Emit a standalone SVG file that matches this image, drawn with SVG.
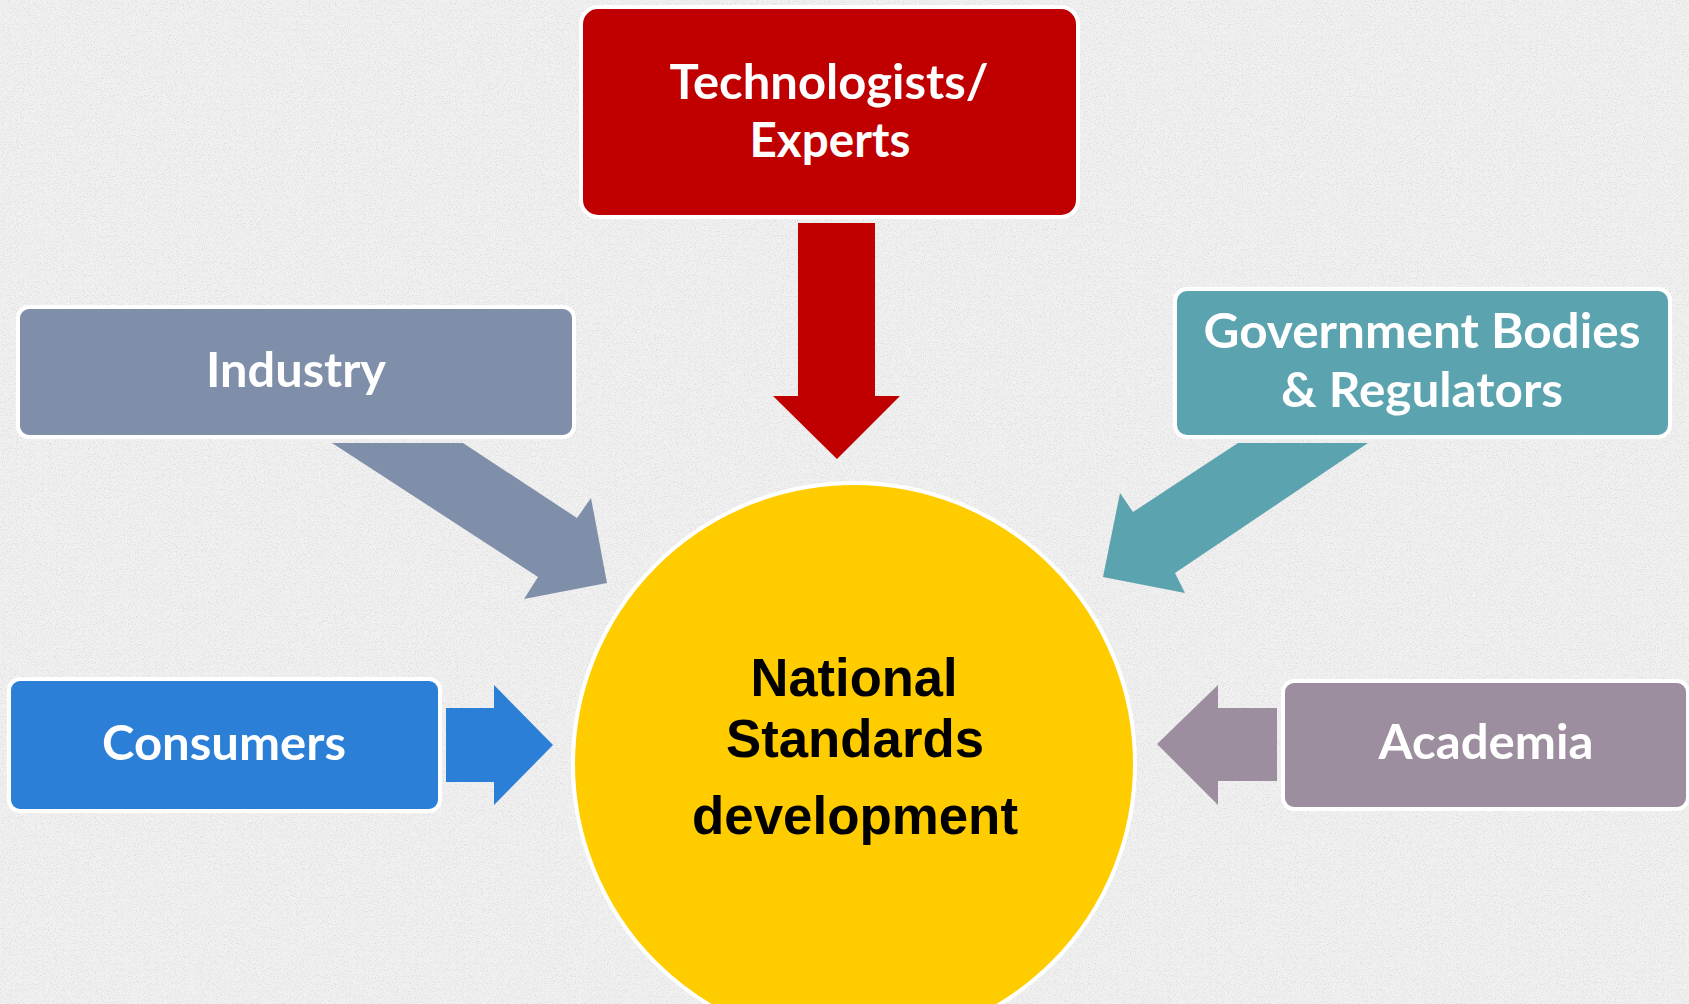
<svg xmlns="http://www.w3.org/2000/svg" width="1689" height="1004" viewBox="0 0 1689 1004">
<defs>
<filter id="noise" x="0" y="0" width="100%" height="100%">
<feTurbulence type="fractalNoise" baseFrequency="0.85" numOctaves="2" seed="7" result="t"/>
<feColorMatrix in="t" type="matrix" values="0 0 0 0 0.62  0 0 0 0 0.62  0 0 0 0 0.62  3.2 0 0 0 -1.5"/>
</filter>
<style>
.box{stroke:#FFFFFF;stroke-width:4}
.lbl{font-family:Lato,"Open Sans",sans-serif;font-weight:bold;font-size:48px;fill:#FFFFFF;text-anchor:middle}
.ctr{font-family:"Liberation Sans",Arial,sans-serif;font-weight:bold;font-size:53px;fill:#000000;text-anchor:middle}
</style>
</defs>
<rect x="0" y="0" width="1689" height="1004" fill="#F1F1F1"/>
<rect x="0" y="0" width="1689" height="1004" filter="url(#noise)" opacity="0.55"/>

<g id="connectors">
<polygon points="798,223 875,223 875,396 900,396 837,459 773,396 798,396" fill="#C00000"/>
<polygon points="332,443 463,443 577,518 591,498 607,583 524,599 538,577" fill="#7F8FA9"/>
<polygon points="1238,443 1368,443 1175,573 1185,593 1103,577 1120,493 1133,512" fill="#5BA3AE"/>
<polygon points="446,708 494,708 494,685 553,745 494,805 494,782 446,782" fill="#2C7FD6"/>
<polygon points="1277,708 1218,708 1218,685 1157,744 1218,805 1218,781 1277,781" fill="#9D8E9F"/>
</g>

<g id="node-center">
<circle cx="854" cy="764" r="281" fill="#FFCC00" stroke="#FFFFFF" stroke-width="4"/>
<text class="ctr" x="854" y="696" textLength="207" lengthAdjust="spacingAndGlyphs">National</text>
<text class="ctr" x="855" y="757" textLength="258" lengthAdjust="spacingAndGlyphs">Standards</text>
<text class="ctr" x="855" y="834" textLength="326" lengthAdjust="spacingAndGlyphs">development</text>
</g>

<g id="node-technologists">
<rect class="box" x="581" y="7" width="497" height="210" rx="17" fill="#C00000"/>
<text class="lbl" x="829" y="99" textLength="319" lengthAdjust="spacingAndGlyphs">Technologists/</text>
<text class="lbl" x="830" y="157" textLength="161" lengthAdjust="spacingAndGlyphs">Experts</text>
</g>

<g id="node-industry">
<rect class="box" x="18" y="307" width="556" height="130" rx="11" fill="#7F8FA9"/>
<text class="lbl" x="296" y="387" textLength="180" lengthAdjust="spacingAndGlyphs">Industry</text>
</g>

<g id="node-government">
<rect class="box" x="1175" y="289" width="495" height="148" rx="12" fill="#5BA3AE"/>
<text class="lbl" x="1422" y="348" textLength="437" lengthAdjust="spacingAndGlyphs">Government Bodies</text>
<text class="lbl" x="1422" y="407" textLength="282" lengthAdjust="spacingAndGlyphs">&amp; Regulators</text>
</g>

<g id="node-consumers">
<rect class="box" x="9" y="679" width="431" height="132" rx="11" fill="#2C7FD6"/>
<text class="lbl" x="224" y="760" textLength="244" lengthAdjust="spacingAndGlyphs">Consumers</text>
</g>

<g id="node-academia">
<rect class="box" x="1283" y="681" width="405" height="128" rx="11" fill="#9D8E9F"/>
<text class="lbl" x="1486" y="759" textLength="215" lengthAdjust="spacingAndGlyphs">Academia</text>
</g>
</svg>
